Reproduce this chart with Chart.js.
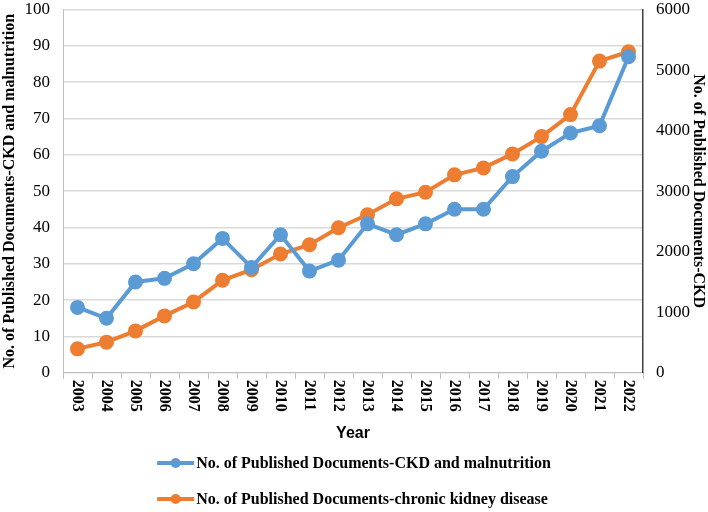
<!DOCTYPE html>
<html>
<head>
<meta charset="utf-8">
<script src="https://cdn.jsdelivr.net/npm/chart.js@4"></script>
<style>
    html, body { margin: 0; padding: 0; background: #fff; }
    #wrap { width: 708px; height: 512px; }
</style>
</head>
<body>
<div id="wrap"><canvas id="ckd_chart"></canvas></div>
<script>
// 연도
const years = ['2003', '2004', '2005', '2006', '2007', '2008', '2009', '2010', '2011', '2012',
    '2013', '2014', '2015', '2016', '2017', '2018', '2019', '2020', '2021', '2022'];

// CKD and malnutrition (left axis)
const ckdMalnutrition = [18, 15, 25, 26, 30, 37, 29, 38, 28, 31, 41, 38, 41, 45, 45, 54, 61, 66, 68, 87];

// chronic kidney disease (right axis)
const ckdTotal = [396, 506, 692, 940, 1170, 1528, 1703, 1961, 2115, 2395,
    2610, 2873, 2983, 3269, 3384, 3615, 3901, 4264, 5148, 5302];

const leftTicks = [0, 10, 20, 30, 40, 50, 60, 70, 80, 90, 100];
const rightTicks = [0, 1000, 2000, 3000, 4000, 5000, 6000];

const seriesLabels = ['No. of Published Documents-CKD and malnutrition', 'No. of Published Documents-chronic kidney disease'];
const seriesColors = ['#5B9BD5', '#ED7D31'];

// x축 라벨 (시계방향 90도)
const yearLabelPlugin = {
    id: 'yearLabels',
    afterDraw(chart) {
        const ctx = chart.ctx;
        const xs = chart.scales.x;
        ctx.save();
        ctx.font = 'bold 16px "Liberation Serif"';
        ctx.fillStyle = '#000';
        ctx.textAlign = 'left';
        ctx.textBaseline = 'middle';
        years.forEach((y, i) => {
            ctx.save();
            ctx.translate(xs.getPixelForTick(i), chart.chartArea.bottom + 7);
            ctx.rotate(Math.PI / 2);
            ctx.fillText(y, 0, 0);
            ctx.restore();
        });
        ctx.restore();
    }
};

// 범례
const legendPlugin = {
    id: 'bottomLegend',
    afterDraw(chart) {
        const ctx = chart.ctx;
        ctx.save();
        ctx.font = 'bold 16px "Liberation Serif"';
        const textW = Math.max(...seriesLabels.map(t => ctx.measureText(t).width));
        const lineW = 37;
        const left = (chart.width - (textW + lineW + 2)) / 2;
        const rows = [chart.height - 49, chart.height - 13];
        chart.data.datasets.forEach((ds, i) => {
            const y = rows[i];
            ctx.strokeStyle = ds.borderColor;
            ctx.lineWidth = 4;
            ctx.beginPath();
            ctx.moveTo(left, y);
            ctx.lineTo(left + lineW, y);
            ctx.stroke();
            ctx.fillStyle = ds.borderColor;
            ctx.beginPath();
            ctx.arc(left + lineW / 2, y, 5, 0, Math.PI * 2);
            ctx.fill();
            ctx.fillStyle = '#000';
            ctx.textAlign = 'left';
            ctx.textBaseline = 'middle';
            ctx.fillText(ds.label, left + lineW + 2, y + 1);
        });
        ctx.restore();
    }
};

function fnCkdChart() {
    Chart.defaults.font.family = '"Liberation Serif", "Times New Roman", serif';
    Chart.defaults.color = '#000';
    const ctx = document.getElementById('ckd_chart').getContext('2d');
    new Chart(ctx, {
        type: 'line',
        data: {
            labels: years,
            datasets: [
                {
                    label: seriesLabels[0],
                    data: ckdMalnutrition,
                    borderColor: seriesColors[0],
                    backgroundColor: seriesColors[0],
                    borderWidth: 4,
                    pointRadius: 5.5,
                    pointHoverRadius: 5.5,
                    tension: 0,
                    yAxisID: 'y'
                },
                {
                    label: seriesLabels[1],
                    data: ckdTotal,
                    borderColor: seriesColors[1],
                    backgroundColor: seriesColors[1],
                    borderWidth: 4,
                    pointRadius: 5.5,
                    pointHoverRadius: 5.5,
                    tension: 0,
                    yAxisID: 'y1'
                }
            ]
        },
        options: {
            responsive: true,
            maintainAspectRatio: false,
            animation: false,
            layout: {
                padding: { top: 0, right: 0, bottom: 69, left: 0 }
            },
            scales: {
                x: {
                    offset: true,
                    grid: {
                        offset: true,
                        drawOnChartArea: false,
                        drawTicks: true,
                        tickLength: 6,
                        color: '#bfbfbf'
                    },
                    border: { color: '#bfbfbf' },
                    ticks: {
                        color: 'rgba(0,0,0,0)',
                        font: { size: 16, weight: 'bold' },
                        minRotation: 90,
                        maxRotation: 90,
                        padding: 4,
                        autoSkip: false
                    },
                    title: {
                        display: true,
                        text: 'Year',
                        font: { family: '"Liberation Sans Narrow", "Liberation Sans", sans-serif', size: 16, weight: 'bold' },
                        padding: { top: 5, bottom: 0 }
                    }
                },
                y: {
                    position: 'left',
                    min: 0,
                    max: 100,
                    afterBuildTicks: axis => { axis.ticks = leftTicks.map(v => ({ value: v })); },
                    afterFit: axis => { axis.width = 63; axis.paddingTop = 7; },
                    grid: { color: '#d9d9d9', drawTicks: false, lineWidth: 1.5 },
                    border: { color: '#bfbfbf' },
                    ticks: { font: { size: 17 }, padding: 13, callback: v => String(v) },
                    title: {
                        display: true,
                        text: 'No. of Published Documents-CKD and malnutrition',
                        font: { size: 16, weight: 'bold' },
                        padding: { top: 0, bottom: 0 }
                    }
                },
                y1: {
                    position: 'right',
                    min: 0,
                    max: 6000,
                    afterBuildTicks: axis => { axis.ticks = rightTicks.map(v => ({ value: v })); },
                    afterFit: axis => { axis.width = 65; axis.paddingTop = 7; },
                    grid: { drawOnChartArea: false, drawTicks: false },
                    border: { color: '#404040', width: 1.5 },
                    ticks: { font: { size: 17 }, padding: 13, callback: v => String(v) },
                    title: {
                        display: true,
                        text: 'No. of Published Documents-CKD',
                        font: { size: 16, weight: 'bold' },
                        padding: { top: 0, bottom: 0 }
                    }
                }
            },
            plugins: {
                legend: { display: false },
                tooltip: { enabled: false }
            }
        },
        plugins: [yearLabelPlugin, legendPlugin]
    });
}

fnCkdChart();
</script>
</body>
</html>
